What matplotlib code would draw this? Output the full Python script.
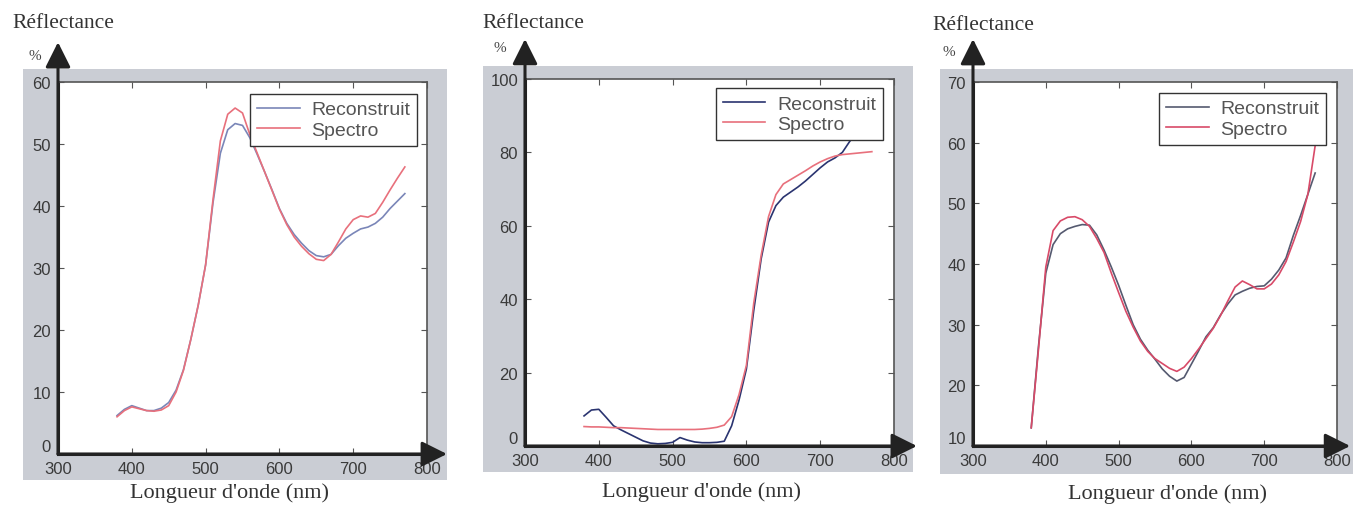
import numpy as np
import matplotlib.pyplot as plt
from matplotlib.patches import Rectangle

# Longueurs d'onde (nm)
wl = [380, 390, 400, 410, 420, 430, 440, 450, 460, 470,
      480, 490, 500, 510, 520, 530, 540, 550, 560, 570,
      580, 590, 600, 610, 620, 630, 640, 650, 660, 670,
      680, 690, 700, 710, 720, 730, 740, 750, 760, 770]

# Echantillon 1
reco1 = [6.2, 7.2, 7.8, 7.4, 7.0, 7.0, 7.4, 8.3, 10.3, 13.6,
         18.5, 24.0, 30.5, 40.5, 48.5, 52.3, 53.3, 53.0, 51.0, 48.3,
         45.5, 42.6, 39.6, 37.2, 35.4, 34.0, 32.8, 32.0, 31.8, 32.2,
         33.6, 34.8, 35.6, 36.3, 36.6, 37.2, 38.2, 39.6, 40.8, 42.0]
spectro1 = [6.0, 7.0, 7.6, 7.3, 7.0, 6.9, 7.1, 7.8, 10.0, 13.5,
            18.5, 24.0, 30.5, 41.0, 50.5, 54.8, 55.8, 55.0, 51.5, 48.5,
            45.5, 42.5, 39.5, 37.0, 35.0, 33.5, 32.3, 31.4, 31.2, 32.2,
            34.2, 36.3, 37.8, 38.4, 38.2, 38.8, 40.6, 42.6, 44.5, 46.3]

# Echantillon 2
reco2 = [8.2, 9.8, 10.0, 7.8, 5.5, 4.4, 3.4, 2.4, 1.4, 0.8,
         0.6, 0.7, 1.0, 2.3, 1.6, 1.1, 0.9, 0.9, 1.0, 1.3,
         5.5, 12.5, 21.0, 37.0, 51.0, 61.0, 65.5, 67.8, 69.2, 70.6,
         72.2, 74.0, 75.8, 77.4, 78.5, 80.0, 83.0, 85.5, 87.5, 89.5]
spectro2 = [5.3, 5.2, 5.2, 5.1, 5.0, 5.0, 4.9, 4.8, 4.7, 4.6,
            4.5, 4.5, 4.5, 4.5, 4.5, 4.5, 4.6, 4.8, 5.1, 5.7,
            8.0, 14.0, 22.0, 39.0, 52.0, 62.5, 68.5, 71.4, 72.6, 73.8,
            75.0, 76.3, 77.4, 78.3, 79.0, 79.4, 79.6, 79.8, 80.0, 80.2]

# Echantillon 3
reco3 = [13.0, 26.5, 38.5, 43.2, 45.0, 45.8, 46.2, 46.5, 46.4, 44.8,
         42.3, 39.5, 36.5, 33.2, 30.0, 27.6, 25.8, 24.3, 22.7, 21.5,
         20.7, 21.3, 23.5, 25.7, 28.0, 29.5, 31.6, 33.4, 34.9, 35.5,
         36.0, 36.3, 36.4, 37.5, 39.0, 41.0, 44.7, 48.0, 51.5, 55.0]
spectro3 = [13.0, 26.0, 39.5, 45.5, 47.1, 47.7, 47.8, 47.3, 46.2, 44.2,
            41.9, 38.5, 35.3, 32.2, 29.6, 27.3, 25.6, 24.4, 23.6, 22.8,
            22.3, 23.0, 24.4, 26.0, 27.7, 29.4, 31.5, 33.9, 36.2, 37.2,
            36.6, 35.9, 35.9, 36.7, 38.2, 40.4, 43.6, 47.0, 51.5, 59.5]

xticks = [300, 400, 500, 600, 700, 800]
yticks1 = [0, 10, 20, 30, 40, 50, 60]
yticks2 = [0, 20, 40, 60, 80, 100]
yticks3 = [10, 20, 30, 40, 50, 60, 70]

W, H = 1353, 506
GRIS = '#cacdd4'
SERIF = 'Liberation Serif'
SANS = 'Liberation Sans'


def box(x0, y0, x1, y1):
    # pixels (origine en haut a gauche) -> coordonnees figure
    return [x0 / W, 1 - y1 / H, (x1 - x0) / W, (y1 - y0) / H]


fig = plt.figure(figsize=(W / 100, H / 100), dpi=100)
fig.patch.set_facecolor('white')


def panneau(ax_px, gris_px, titre_px, pct_px, xlab_px, arrow_y, arrow_x,
            reco, spectro, yticks, c_reco, c_spec, leg_anchor):
    fig.add_artist(Rectangle((gris_px[0] / W, 1 - gris_px[3] / H),
                             (gris_px[2] - gris_px[0]) / W,
                             (gris_px[3] - gris_px[1]) / H,
                             transform=fig.transFigure, facecolor=GRIS,
                             edgecolor='none', zorder=-5))
    ax = fig.add_axes(box(*ax_px))
    ax.set_facecolor('white')
    ax.plot(wl, reco, color=c_reco, lw=1.2, label='Reconstruit')
    ax.plot(wl, spectro, color=c_spec, lw=1.2, label='Spectro')
    ax.set_xlim(300, 800)
    ax.set_ylim(yticks[0], yticks[-1])
    ax.set_xticks(xticks)
    ax.set_yticks(yticks)
    ax.tick_params(direction='in', length=4, width=0.8, color='#555555',
                   top=True, right=True, labelsize=12, labelcolor='#3a3a3a')
    ax.tick_params(axis='y', pad=5)
    ax.tick_params(axis='x', pad=5)
    for lab in ax.get_xticklabels() + ax.get_yticklabels():
        lab.set_family(SANS)
    # le premier label y remonte un peu, comme dans l'original
    ax.get_yticklabels()[0].set_verticalalignment('bottom')
    for s in ['top', 'right']:
        ax.spines[s].set_color('#555555')
        ax.spines[s].set_linewidth(1.2)
    for s in ['left', 'bottom']:
        ax.spines[s].set_color('#222222')
        ax.spines[s].set_linewidth(2.2)

    # axes flechees
    fleche = dict(arrowstyle='-|>,head_length=1.1,head_width=0.55',
                  color='#222222', lw=2.2, shrinkA=0, shrinkB=0,
                  mutation_scale=14)
    ax.annotate('', xy=(0, 1 + arrow_y), xytext=(0, 0),
                xycoords='axes fraction', arrowprops=fleche,
                annotation_clip=False)
    ax.annotate('', xy=(1 + arrow_x, 0), xytext=(0, 0),
                xycoords='axes fraction', arrowprops=fleche,
                annotation_clip=False)

    leg = ax.legend(loc='upper right', bbox_to_anchor=leg_anchor,
                    borderaxespad=0, fancybox=False, framealpha=1,
                    edgecolor='#333333', handlelength=2.2,
                    handletextpad=0.6, borderpad=0.35, labelspacing=0.15,
                    prop={'family': SANS, 'size': 14})
    leg.get_frame().set_linewidth(1.0)
    for t in leg.get_texts():
        t.set_color('#555555')

    fig.text(titre_px[0] / W, 1 - titre_px[1] / H, 'Réflectance',
             family=SERIF, fontsize=15.5, color='#333333',
             ha='left', va='center')
    fig.text(pct_px[0] / W, 1 - pct_px[1] / H, '%',
             family=SERIF, fontsize=11, color='#444444',
             ha='center', va='center')
    fig.text(xlab_px[0] / W, 1 - xlab_px[1] / H, "Longueur d'onde (nm)",
             family=SERIF, fontsize=16, color='#333333',
             ha='center', va='center')
    return ax


panneau((58, 83, 427, 455), (23, 70, 447, 481), (12, 24), (35, 56),
        (230, 493), 0.107, 0.054, reco1, spectro1, yticks1,
        '#7a86b8', '#e8707c', (0.973, 0.968))
panneau((525, 80, 894, 447), (483, 67, 913, 473), (482, 24), (500, 49),
        (701, 492), 0.109, 0.062, reco2, spectro2, yticks2,
        '#2a3470', '#e8707c', (0.970, 0.975))
panneau((973, 83, 1337, 447), (940, 70, 1353, 475), (932, 25), (949, 52),
        (1168, 494), 0.118, 0.036, reco3, spectro3, yticks3,
        '#555a70', '#d84a68', (0.970, 0.970))

fig.savefig('out.png', dpi=100)
